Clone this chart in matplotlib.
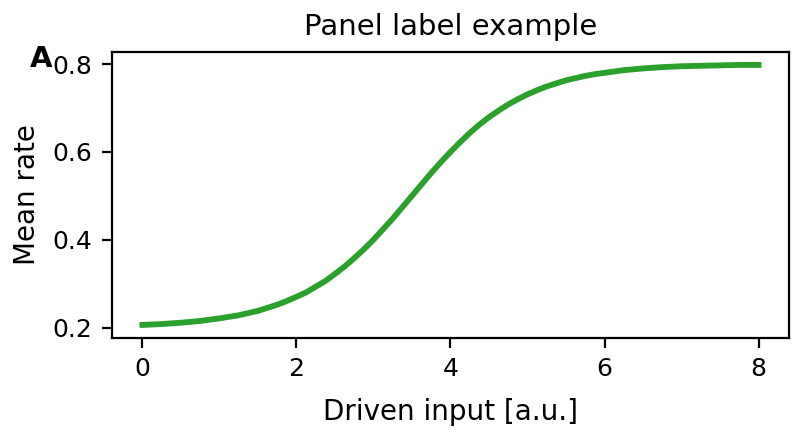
import numpy as np
import matplotlib
matplotlib.use('Agg')
import matplotlib.pyplot as plt

# valores (entrada vs tasa media), paso 0.125
entrada = [0, 0.125, 0.25, 0.375, 0.5, 0.625, 0.75, 0.875,
           1.0, 1.125, 1.25, 1.375, 1.5, 1.625, 1.75, 1.875,
           2.0, 2.125, 2.25, 2.375, 2.5, 2.625, 2.75, 2.875,
           3.0, 3.125, 3.25, 3.375, 3.5, 3.625, 3.75, 3.875,
           4.0, 4.125, 4.25, 4.375, 4.5, 4.625, 4.75, 4.875,
           5.0, 5.125, 5.25, 5.375, 5.5, 5.625, 5.75, 5.875,
           6.0, 6.125, 6.25, 6.375, 6.5, 6.625, 6.75, 6.875,
           7.0, 7.125, 7.25, 7.375, 7.5, 7.625, 7.75, 7.875, 8.0]
tasa = [0.206, 0.207, 0.208, 0.2095, 0.211, 0.213, 0.215, 0.218,
        0.221, 0.2245, 0.228, 0.233, 0.238, 0.245, 0.252, 0.2605,
        0.270, 0.280, 0.293, 0.306, 0.322, 0.339, 0.358, 0.378,
        0.400, 0.424, 0.448, 0.474, 0.500, 0.526, 0.552, 0.5765,
        0.600, 0.622, 0.643, 0.662, 0.679, 0.694, 0.708, 0.720,
        0.731, 0.7405, 0.749, 0.756, 0.763, 0.768, 0.773, 0.777,
        0.780, 0.783, 0.786, 0.788, 0.790, 0.7915, 0.793, 0.794,
        0.795, 0.7955, 0.796, 0.7965, 0.797, 0.7975, 0.798, 0.798, 0.798]

plt.rcParams['font.size'] = 9

fig = plt.figure(figsize=(803/200, 440/200), dpi=200)
ax = fig.add_axes([0.139, 0.232, 0.844, 0.650])
ax.plot(entrada, tasa, color='#2ca02c', linewidth=2.1)
ax.set_xticks([0, 2, 4, 6, 8])
ax.set_yticks([0.2, 0.4, 0.6, 0.8])
ax.set_xlabel('Driven input [a.u.]', fontsize=10, labelpad=6)
ax.set_ylabel('Mean rate', fontsize=10)
ax.set_title('Panel label example', fontsize=10.5)
# etiqueta del panel
ax.text(-0.12, 0.948, 'A', transform=ax.transAxes, fontsize=10.5,
        fontweight='bold', ha='left', va='baseline')

fig.savefig('out.png', dpi=200)
